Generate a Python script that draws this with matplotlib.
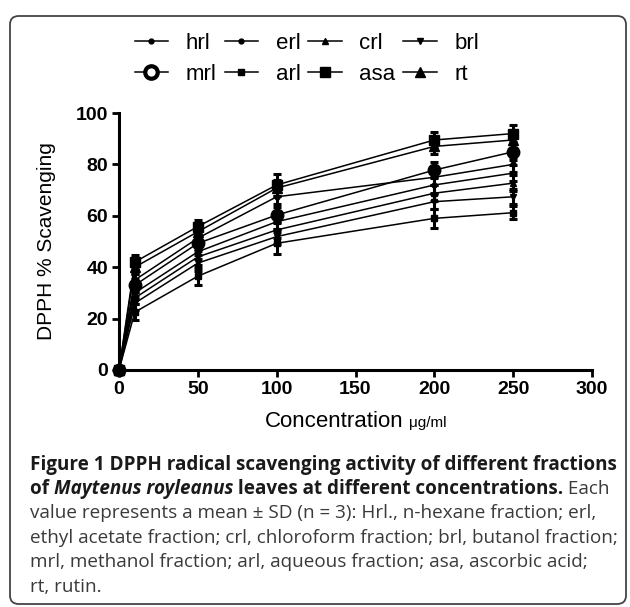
import matplotlib
matplotlib.use("Agg")
import matplotlib.pyplot as plt
from matplotlib.patches import FancyBboxPatch
from matplotlib.lines import Line2D

W, H, DPI = 630, 607, 100

# ---------------- data ----------------
concentration = [0, 10, 50, 100, 200, 250]
series_labels = ["hrl", "erl", "crl", "brl", "mrl", "arl", "asa", "rt"]

hrl = [0, 30.0, 46.0, 57.7, 72.0, 76.6]
erl = [0, 35.0, 51.3, 67.4, 75.0, 80.0]
crl = [0, 28.0, 44.0, 54.5, 68.8, 72.7]
brl = [0, 26.0, 41.6, 51.9, 65.5, 67.4]
mrl = [0, 33.0, 49.3, 60.3, 77.8, 84.9]
arl = [0, 22.5, 36.5, 49.3, 59.0, 61.2]
asa = [0, 42.0, 55.8, 72.0, 89.5, 92.0]
rt = [0, 40.0, 53.8, 70.8, 87.0, 89.5]

hrl_sd = [0, 2.5, 3.0, 3.0, 3.0, 3.0]
erl_sd = [0, 2.5, 3.0, 3.0, 3.0, 3.0]
crl_sd = [0, 2.5, 3.0, 3.0, 3.0, 3.0]
brl_sd = [0, 2.5, 3.0, 3.0, 3.0, 3.0]
mrl_sd = [0, 2.5, 3.0, 3.0, 3.0, 3.0]
arl_sd = [0, 3.0, 3.3, 4.3, 3.8, 2.5]
asa_sd = [0, 2.7, 2.5, 4.3, 3.2, 3.3]
rt_sd = [0, 2.5, 3.0, 3.0, 3.0, 3.0]

x_ticks = [0, 50, 100, 150, 200, 250, 300]
y_ticks = [0, 20, 40, 60, 80, 100]

x_label = "Concentration"
x_unit = "μg/ml"
y_label = "DPPH % Scavenging"

caption_lines = [
    [("Figure 1 DPPH radical scavenging activity of different fractions", "b")],
    [("of ", "b"), ("Maytenus royleanus", "bi"), (" leaves at different concentrations.", "b"), (" Each", "n")],
    [("value represents a mean ± SD (n = 3): Hrl., n-hexane fraction; erl,", "n")],
    [("ethyl acetate fraction; crl, chloroform fraction; brl, butanol fraction;", "n")],
    [("mrl, methanol fraction; arl, aqueous fraction; asa, ascorbic acid;", "n")],
    [("rt, rutin.", "n")],
]

# ---------------- styles ----------------
values = dict(hrl=hrl, erl=erl, crl=crl, brl=brl, mrl=mrl, arl=arl, asa=asa, rt=rt)
sds = dict(hrl=hrl_sd, erl=erl_sd, crl=crl_sd, brl=brl_sd, mrl=mrl_sd,
           arl=arl_sd, asa=asa_sd, rt=rt_sd)
styles = {
    "hrl": dict(marker="o", ms=3.5),
    "erl": dict(marker="o", ms=3.5),
    "crl": dict(marker="^", ms=4.5),
    "brl": dict(marker="v", ms=4.5),
    "mrl": dict(marker="o", ms=9),
    "arl": dict(marker="s", ms=4),
    "asa": dict(marker="s", ms=7.5),
    "rt": dict(marker="^", ms=7.5),
}

plt.rcParams["font.family"] = ["Liberation Sans", "DejaVu Sans"]

fig = plt.figure(figsize=(W / DPI, H / DPI), dpi=DPI)
renderer = fig.canvas.get_renderer()

# frame
frame = FancyBboxPatch((10 / W, 3 / H), 616 / W, 588 / H,
                       boxstyle="round,pad=0,rounding_size=0.014",
                       transform=fig.transFigure, fill=False,
                       edgecolor="#444444", linewidth=1.3)
fig.patches.append(frame)

# axes
ax_left, ax_right, ax_top, ax_bottom = 119, 592, 113, 370
ax = fig.add_axes([ax_left / W, 1 - ax_bottom / H, (ax_right - ax_left) / W,
                   (ax_bottom - ax_top) / H])

for name in series_labels:
    st = styles[name]
    ax.errorbar(concentration, values[name], yerr=sds[name], color="black",
                lw=1.1, marker=st["marker"], ms=st["ms"], mfc="black", mec="black",
                capsize=3, capthick=2.2, elinewidth=2.2, clip_on=False, zorder=3)

ax.set_xlim(0, 300)
ax.set_ylim(0, 100)
ax.set_xticks(x_ticks)
ax.set_yticks(y_ticks)
for s in ["top", "right"]:
    ax.spines[s].set_visible(False)
for s in ["left", "bottom"]:
    ax.spines[s].set_linewidth(2.2)
ax.tick_params(axis="both", direction="out", length=5, width=2.0,
               labelsize=14, pad=3)
for lab in ax.get_xticklabels() + ax.get_yticklabels():
    lab.set_fontweight("bold")

# axis labels
fig.text(47 / W, 1 - 241 / H, y_label, rotation=90, ha="center", va="center",
         fontsize=15)


def width_px(s, **kw):
    t = fig.text(0, 0, "x" + s + "x", **kw)
    w1 = t.get_window_extent(renderer).width
    t.remove()
    t = fig.text(0, 0, "xx", **kw)
    w2 = t.get_window_extent(renderer).width
    t.remove()
    return w1 - w2


xl_kw = dict(fontsize=16)
xu_kw = dict(fontsize=11)
w_main = width_px(x_label + " ", **xl_kw)
w_unit = width_px(x_unit, **xu_kw)
cx = (ax_left + ax_right) / 2
x0 = cx - (w_main + w_unit) / 2
base_y = 427
fig.text(x0 / W, 1 - base_y / H, x_label, ha="left", va="baseline", **xl_kw)
fig.text((x0 + w_main) / W, 1 - base_y / H, x_unit, ha="left", va="baseline", **xu_kw)

# legend
handles = {}
for name in series_labels:
    st = styles[name]
    mfc = "white" if name == "mrl" else "black"
    mew = 3 if name == "mrl" else 1
    handles[name] = Line2D([0], [0], color="black", lw=1.1, marker=st["marker"],
                           ms=st["ms"], mfc=mfc, mec="black", mew=mew)
order = ["hrl", "mrl", "erl", "arl", "crl", "asa", "brl", "rt"]
fig.legend([handles[n] for n in order], order, ncol=4, frameon=False,
           loc="center", bbox_to_anchor=(307 / W, 1 - 59 / H),
           fontsize=16, handlelength=1.5, handletextpad=0.8,
           columnspacing=0.35, labelspacing=0.45, borderpad=0)

# caption
cap_family = ["Open Sans", "DejaVu Sans"]
kinds = {
    "b": dict(fontweight="bold", fontstyle="normal", color="#1a1a1a"),
    "bi": dict(fontweight="bold", fontstyle="italic", color="#1a1a1a"),
    "n": dict(fontweight="normal", fontstyle="normal", color="#3a3a3a"),
}
# fit the bold and normal sizes to the line widths of the reference
ref_fs = 12.0
wb = width_px(caption_lines[0][0][0], family=cap_family, fontsize=ref_fs, **kinds["b"])
fs_b = ref_fs * 585 / wb
wn = width_px(caption_lines[3][0][0], family=cap_family, fontsize=ref_fs, **kinds["n"])
fs_n = ref_fs * 584 / wn
sizes = {"b": fs_b, "bi": fs_b, "n": fs_n}

baselines = [470, 494, 518, 543, 567, 592]
for runs, by in zip(caption_lines, baselines):
    x = 30
    for s, k in runs:
        kw = dict(family=cap_family, fontsize=sizes[k], **kinds[k])
        fig.text(x / W, 1 - by / H, s, ha="left", va="baseline", **kw)
        x += width_px(s, **kw)

fig.savefig("out.png", dpi=DPI)
